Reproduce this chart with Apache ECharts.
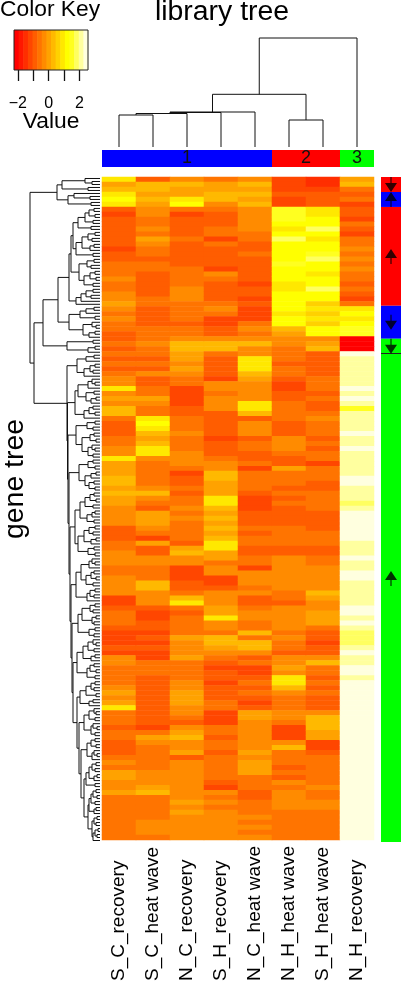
<!DOCTYPE html>
<html>
<head>
<meta charset="utf-8">
<title>Gene heat map</title>
<style>
  html, body { margin: 0; padding: 0; background: #fff; }
  #chart { width: 402px; height: 984px; }
</style>
<script src="https://cdn.jsdelivr.net/npm/echarts@6/dist/echarts.min.js"></script>
</head>
<body>
<div id="chart"></div>
<script>
const libraries = ['S_C_recovery', 'S_C_heat wave', 'N_C_recovery', 'S_H_recovery', 'N_C_heat wave', 'N_H_heat wave', 'S_H_heat wave', 'N_H_recovery']

// z scores per binned gene row, top to bottom
const sCRecovery = [
  0.9,0,0.3,0.9,1.2,0.9,-0.9,-1.2,-0.9,-0.9,-0.9,-0.9,-0.9,-0.9,-1.2,-0.9,-0.9,-0.6,-0.6,-0.6,
  -0.3,-0.6,-0.6,-0.3,-0.3,0,-0.3,-0.6,-0.3,-0.6,-0.6,-0.9,-0.9,-0.6,-0.9,-0.6,-0.9,-0.6,-0.9,
  -0.6,-0.3,-0.3,0.9,-0.3,0,-0.3,0.3,0.3,-0.6,-0.9,-0.9,-0.9,-0.6,-0.6,-0.3,-0.3,0.9,0,0,
  0,0.3,0.3,0,0.3,0,0,-0.3,-0.3,-0.3,-0.3,-0.9,-0.9,-0.9,-0.6,-0.6,-0.3,-0.3,-0.3,-0.6,
  -0.6,-0.3,-0.3,-0.3,-0.3,-1.2,-1.2,-0.9,-0.6,-0.6,-0.6,-0.9,-1.2,-1.2,-1.2,-0.9,-1.2,
  -0.3,-0.3,-0.6,-0.6,-0.6,-0.6,-0.3,0,-0.3,0,0.9,-0.6,-0.6,-0.6,-0.9,-0.6,-0.6,-0.9,-0.9,-0.9,
  -0.6,-0.3,-0.6,0,0,-0.3,-0.3,0,-0.6,-0.6,-0.6,-0.6,-0.6,-0.6,-0.6,-0.6,-0.6
]
const sCHeatWave = [
  -0.9,0.3,0.3,0,0.3,0,-0.3,-0.3,-0.6,-0.6,-0.3,-0.6,0,-0.3,-0.6,-0.6,-0.9,-0.6,-0.6,-0.9,
  -0.9,-0.9,-0.9,-0.9,-0.6,-0.6,-0.9,-0.9,-0.9,-0.9,-0.6,-0.6,-0.6,-0.3,-0.6,-0.6,-0.9,-0.6,-0.9,
  -0.3,-0.9,-0.9,-0.6,-0.6,0,-0.3,-0.6,-0.6,0.9,1.2,0.9,0.3,0,0.3,0.9,0.9,-0.3,-0.6,-0.6,
  -0.6,-0.6,-0.6,-0.3,0.3,-0.3,-0.6,-0.9,0,0,0,-0.3,-0.6,-1.2,0,-0.9,-0.9,-0.3,-0.3,-0.6,
  -0.6,-0.6,0.3,0.3,-0.3,-0.3,-0.3,-0.9,-1.2,-1.2,-0.9,-0.9,-1.2,-0.9,-1.2,-0.9,-1.2,
  -1.2,-0.6,-0.6,-0.6,-0.9,-0.9,-0.9,-0.9,-0.9,-0.9,-0.9,-0.9,-0.9,-0.9,-1.2,-0.6,0,-0.3,-0.6,-0.6,
  -0.6,-0.6,-0.6,-0.3,-0.3,-0.3,0,0.3,-0.6,-0.6,-0.6,-0.6,-0.6,-0.3,-0.3,-0.3,-0.6
]
const nCRecovery = [
  -0.3,0.3,0,0,0.9,1.2,-0.6,-1.2,-0.9,-0.9,-0.9,-0.9,-0.6,-0.9,-0.9,-0.9,-0.9,-0.9,-0.6,-0.6,
  -0.6,-0.6,-0.3,-0.3,-0.3,-0.6,-0.6,-0.6,-0.6,-0.9,-0.6,-0.6,-0.3,0.3,0.3,0,0,-0.3,0,
  -0.3,-0.6,-0.6,-1.2,-1.2,-1.2,-1.2,-0.9,-0.9,-0.6,-0.6,-0.6,-0.3,-0.6,-0.6,-0.6,-0.3,-0.3,-0.3,-0.6,
  -1.2,-0.9,-0.9,-0.6,-0.9,-0.6,-0.6,-0.3,-0.6,-0.3,-0.6,-0.6,-0.6,-0.6,-0.9,0,0.3,-0.3,-0.3,-1.2,
  -1.2,-1.2,-0.9,-0.9,-0.6,0.3,0.9,-0.6,-0.9,-0.6,-0.6,-0.6,-0.6,0,-0.3,-0.3,-0.3,
  0,-0.6,-0.6,-0.6,-0.6,-0.3,-0.3,0,0,0,-0.3,-0.3,-0.6,-0.9,-0.3,0,0.3,-0.3,-0.3,0,
  -0.9,-0.3,-0.3,-0.3,-0.3,-0.3,-0.3,-0.3,-0.3,0,-0.3,0,-0.3,-0.3,-0.3,-0.3,-0.3
]
const sHRecovery = [
  -0.6,0,0,0.3,0.3,-0.3,-0.6,-0.9,-0.9,-0.9,-0.6,-0.6,-1.2,-0.6,-0.9,-0.9,-0.9,-0.9,-1.2,-0.3,
  -0.6,-0.9,-0.9,-0.9,-0.9,-0.6,-0.3,-0.6,-1.2,-1.2,-0.9,-0.9,-0.3,0.3,0.3,-0.6,-0.9,-0.9,-0.9,
  -0.9,-1.2,-0.3,-0.3,-0.6,-0.3,-0.3,-0.3,-0.9,-0.9,-0.9,-0.9,-0.9,-1.2,-0.9,-0.9,-0.9,-0.6,-0.3,-0.3,
  0.3,0.3,0,0,0,0.9,0.9,0.3,0,0.3,0,0.3,0,0.3,0.9,0.9,0,0,-0.6,-0.3,
  -0.3,-1.2,-1.2,-0.9,-0.3,-0.3,-0.3,0,0,0.9,-0.3,-0.3,-0.6,0.3,0.3,0,-0.3,
  -0.6,-0.9,-1.2,-0.9,-0.9,-1.2,-0.9,-0.9,-0.9,-0.6,-0.6,-1.2,-1.2,-1.2,-0.6,-0.6,-0.9,-0.6,-0.6,-0.9,
  -0.6,-0.6,-0.6,-0.6,-0.6,-0.9,-1.2,-0.3,-0.6,-0.3,-0.6,-0.3,-0.3,-0.3,-0.3,-0.3,-0.3
]
const nCHeatWave = [
  -0.3,0.3,0,0.3,0,0.3,-0.3,-0.3,-0.3,-0.3,-0.3,-0.6,-0.6,-0.9,-0.9,-0.6,-0.9,-0.9,-0.9,-0.9,
  -0.9,-1.2,-0.9,-0.9,-1.2,-0.9,-1.2,-1.2,-1.2,-0.6,-0.3,-0.6,-0.3,0.3,-0.3,-0.3,0.9,0.9,0.9,
  0.3,0,-0.3,-0.3,-0.3,-0.3,0.9,0.9,0.3,-0.9,-0.3,-0.3,-0.3,-0.9,-0.6,-0.6,-0.9,-0.9,-0.6,-1.2,
  -0.6,-0.6,-0.6,-0.6,-0.9,-1.2,-1.2,-1.2,-0.9,-0.9,-0.9,-0.6,-0.9,-0.6,-0.6,-0.9,-0.9,-0.6,-0.6,-1.2,
  -0.3,-0.3,-0.3,-0.6,-0.3,-0.9,-0.9,-0.6,-0.3,-0.3,-0.6,-0.6,0.3,-0.6,0.3,0.3,-0.3,
  -0.9,-0.6,-1.2,-1.2,-0.9,-0.6,-0.9,-0.6,-0.9,-1.2,-0.9,0,0,-0.3,-0.3,-0.3,-0.3,-0.3,-0.3,0,
  -0.3,0,0,0,-0.6,-0.6,-0.6,-0.9,-0.9,-0.6,-0.6,-0.6,-0.3,-0.6,-0.3,-0.6,-0.3
]
const nHHeatWave = [
  -1.2,-1.2,-1.2,-0.9,-1.2,-1.2,1.5,1.5,1.5,1.2,0.9,1.2,1.8,1.2,1.2,1.2,1.2,1.5,1.2,1.2,
  1.2,0.9,0.9,1.2,1.2,1.2,1.2,0.9,1.2,1.2,0.3,0,-0.3,-0.3,-0.6,-0.6,-0.6,-0.9,-0.6,
  -0.6,-0.9,-1.2,-1.2,-0.9,-0.9,-0.6,-0.6,-0.6,-0.6,-0.9,-0.9,-0.9,-0.3,-0.3,-0.3,-0.6,-0.9,-0.9,0,
  -0.6,-0.6,-0.6,-0.9,-0.6,-0.9,-0.6,-0.9,-0.9,-0.9,-0.9,-0.6,-0.6,-0.6,-0.6,-0.9,-0.9,-0.3,-0.3,-0.3,
  -0.3,-0.3,-0.3,-0.3,-0.6,-0.6,-0.9,-0.3,-0.3,-0.3,-0.3,-0.3,-0.6,-0.3,-0.6,-0.6,-0.9,
  -0.3,-0.3,0,-0.3,0.9,0.9,0.3,-0.3,-0.6,-0.6,-0.6,-0.3,-0.3,-0.6,-1.2,-1.2,-1.2,-0.3,0.3,-0.6,
  -0.6,-0.6,-0.9,-0.6,-0.9,-0.3,-0.6,-0.3,-0.3,-0.3,-0.3,-0.6,-0.6,-0.6,-0.6,-0.6,-0.6
]
const sHHeatWave = [
  -1.5,-1.5,-1.2,-0.9,-0.9,-0.9,0.9,0.9,1.2,1.2,1.8,1.2,0.9,1.2,1.2,1.5,1.8,1.2,1.2,0.9,
  1.2,1.2,1.8,1.2,1.2,0.6,0.9,0.6,0.9,0.6,1.2,1.2,-0.3,0,0.3,-0.9,-0.9,-0.9,-0.9,
  -0.9,-0.6,-0.6,-0.6,-0.9,-0.6,-0.9,-0.9,-0.6,-0.3,-0.6,-0.6,-0.6,-0.9,-0.6,-0.9,-0.6,-0.6,-1.2,-0.6,
  -0.6,-0.6,-0.9,-0.9,-0.6,-0.6,-0.6,-0.6,-0.9,-0.9,-0.9,-0.9,-0.6,-0.6,-0.6,-0.9,-0.9,-0.6,-0.6,-0.3,
  -0.3,-0.3,-0.3,-0.3,0.3,0,-0.3,-0.3,0,0,0,-0.6,-0.9,-0.9,-1.2,-0.9,-0.9,
  -0.3,0.3,-0.6,-0.6,-0.9,-0.6,-0.9,-0.6,-0.9,-0.9,-0.9,-0.3,0.3,0.3,0.3,0,0,-1.2,-1.2,-0.9,
  -0.6,-0.6,-0.6,-0.6,-0.6,-0.6,-0.3,-0.6,-0.6,-0.3,-0.3,-0.6,-0.6,-0.6,-0.6,-0.6,-0.6
]
const nHRecovery = [
  0,0.3,-0.6,-0.9,-0.6,-1.2,-0.9,-0.9,-1.2,-0.6,-0.9,-1.2,-0.6,-0.6,-0.3,-0.6,-0.3,-0.6,-0.3,-0.6,
  -0.6,-0.9,-0.6,-0.9,-1.2,-0.6,0.9,1.2,0.9,1.2,1.5,1.5,-2.1,-2.1,-2.1,2.4,2.1,2.1,2.1,
  2.1,2.1,2.1,2.4,2.1,2.4,2.1,1.5,2.1,2.1,2.1,2.1,2.4,2.1,2.1,2.4,2.1,2.1,2.1,2.1,
  2.1,2.4,2.4,2.1,2.1,2.1,1.8,2.1,2.4,2.4,2.4,2.4,2.4,2.4,2.1,2.1,2.1,2.4,2.1,2.1,
  2.4,2.4,2.1,2.1,2.1,2.1,2.1,2.4,2.4,2.1,2.4,2.1,1.8,1.8,1.8,2.1,2.4,
  2.1,2.1,2.4,2.4,2.1,2.4,2.4,2.4,2.4,2.4,2.4,2.4,2.4,2.4,2.4,2.4,2.4,2.4,2.4,2.4,
  2.4,2.4,2.4,2.4,2.4,2.4,2.4,2.4,2.4,2.4,2.4,2.4,2.4,2.4,2.4,2.4,2.4
]
const heatColumns = [sCRecovery, sCHeatWave, nCRecovery, sHRecovery, nCHeatWave, nHHeatWave, sHHeatWave, nHRecovery]

const keyBreaks = [-2.25,-1.95,-1.65,-1.35,-1.05,-0.75,-0.45,-0.15,0.15,0.45,0.75,1.05,1.35,1.65,1.95,2.25,2.55]
const keyColors = ['#ff0000','#ff1700','#ff2e00','#ff4600','#ff5d00','#ff7400','#ff8b00','#ffa200','#ffb900','#ffd100','#ffe800','#ffff00','#ffff20','#ffff60','#ffff9f','#ffffdf']
const keyTicks = [-2, -1, 0, 1, 2]
const keyLabels = [-2, 0, 2]

// library tree merges: left x, left height, right x, right height, merge height
const libraryMerges = [
  [1, 0, 2, 0, 32],
  [1.5, 32, 3, 0, 33.5],
  [2.5, 33.5, 4, 0, 34.5],
  [2.5, 34.5, 5, 0, 35],
  [6, 0, 7, 0, 27],
  [3.75, 35, 6.5, 27, 52.7],
  [5.125, 52.7, 8, 0, 109]
]

// gene tree: height at which each leaf joins the next one
const geneGaps = [
  15,8,38,12,43,26,10,32,9,70,
  6,11,5,15,7,22,9,27,5,12,8,18,6,10,24,7,29,6,13,9,21,5,10,4,16,7,31,7,14,9,19,24,42,
  6,14,20,5,31,8,4,17,5,11,57,7,33,5,12,66,
  6,14,23,5,10,7,16,33,
  8,5,12,22,6,14,4,9,25,7,11,5,16,32.5,
  5,13,7,24,6,10,4,18,8,5,12,7,32,
  7,12,5,21,4,9,15,6,11,5,31,
  6,10,4,15,7,20,5,8,13,6,25,5,11,7,16,4,9,22,6,12,5,30,
  8,5,11,19,6,9,4,14,7,24,5,10,6,13,29,
  5,10,7,18,4,8,6,22,5,11,6,28,
  7,4,12,6,17,5,9,23,6,10,4,13,5,27,
  5,9,6,14,4,20,7,11,23,
  6,4,11,5,16,7,3,9,5,21,
  5,9,4,13,6,3,8,19,
  4,8,5,11,3,6,14,5,16,
  4,7,3,9,5,11,4,6,12,
  3,6,4,8,2,5,3,7
]

const clusterNames = ['1', '2', '3']
const clusterSizes = [5, 2, 1]
const clusterColors = ['#0000ff', '#ff0000', '#00ff00']

const sideSizes = [5, 5, 33, 11, 5, 163]
const sideColors = ['#ff0000', '#0000ff', '#ff0000', '#0000ff', '#00ff00', '#00ff00']
const sideArrowRows = [2.5, 7.5, 26.5, 48.5, 56.5, 134]
const sideArrowUp = [false, true, true, false, false, true]
const sideLineRow = 59

const arrowPath = 'path://M6,0 L12,9 L6.6,9 L6.6,15 L5.4,15 L5.4,9 L0,9 Z'

function buildGeneMerges(gaps) {
  const merges = []
  function walk(from, to) {
    if (from === to) return { pos: from + 0.5, h: 0 }
    let split = from
    for (let i = from; i < to; i++) {
      if (gaps[i] > gaps[split]) split = i
    }
    const a = walk(from, split)
    const b = walk(split + 1, to)
    const h = gaps[split]
    merges.push([a.h, a.pos, h, a.pos, h, b.pos, b.h, b.pos])
    return { pos: (a.pos + b.pos) / 2, h: h }
  }
  walk(0, gaps.length)
  return merges
}

function renderElbow(params, api) {
  const points = []
  for (let i = 0; i < 8; i += 2) {
    points.push(api.coord([api.value(i), api.value(i + 1)]))
  }
  return {
    type: 'polyline',
    shape: { points: points },
    style: { fill: 'none', stroke: '#111', lineWidth: 1 }
  }
}

function renderKeyCell(params, api) {
  const a = api.coord([api.value(0), 1])
  const b = api.coord([api.value(1), 0])
  return {
    type: 'rect',
    shape: { x: a[0], y: a[1], width: b[0] - a[0] + 0.6, height: b[1] - a[1] },
    style: { fill: keyColors[params.dataIndex] }
  }
}

const heatData = []
heatColumns.forEach(function(column, c) {
  column.forEach(function(v, r) {
    heatData.push([c, r, v])
  })
})

const pieces = keyColors.map(function(color, i) {
  return { gte: keyBreaks[i], lt: keyBreaks[i + 1], color: color }
})

const libraryElbows = libraryMerges.map(function(m) {
  return [m[0], m[1], m[0], m[4], m[2], m[4], m[2], m[3]]
})

const hidden = { show: false }
const font = 'Liberation Sans'

const option = {
  animation: false,
  backgroundColor: '#fff',
  textStyle: { fontFamily: font },
  grid: [
    { left: 102, top: 177, width: 272, height: 665 },
    { left: 102, top: 38, width: 272, height: 109 },
    { left: 102, top: 150, width: 272, height: 17 },
    { left: 30, top: 177, width: 70, height: 665 },
    { left: 381, top: 177, width: 20, height: 665 },
    { left: 14, top: 30, width: 74, height: 40, show: true, borderColor: '#222', borderWidth: 1, z: 5 }
  ],
  xAxis: [
    {
      gridIndex: 0,
      type: 'category',
      data: libraries,
      axisLine: hidden,
      axisTick: hidden,
      axisLabel: {
        interval: 0,
        rotate: 90,
        align: 'left',
        margin: 141,
        padding: [0, 0, 6, 0],
        fontSize: 19,
        color: '#000',
        fontFamily: font
      }
    },
    { gridIndex: 1, type: 'value', min: 0.5, max: 8.5, show: false },
    { gridIndex: 2, type: 'value', min: 0, max: 8, show: false },
    { gridIndex: 3, type: 'value', min: 0, max: 70, inverse: true, show: false },
    { gridIndex: 4, type: 'category', data: ['genes'], show: false },
    {
      gridIndex: 5,
      type: 'value',
      min: keyBreaks[0],
      max: keyBreaks[keyBreaks.length - 1],
      splitLine: hidden,
      axisLine: hidden,
      axisTick: { show: true, length: 11, customValues: keyTicks, lineStyle: { color: '#111', width: 1.3 } },
      axisLabel: {
        customValues: keyLabels,
        margin: 26,
        fontSize: 16,
        color: '#000',
        fontFamily: font,
        formatter: function(v) {
          return String(v).replace('-', '\u2212')
        }
      }
    }
  ],
  yAxis: [
    { gridIndex: 0, type: 'category', inverse: true, data: heatColumns[0].map(function(v, i) { return i }), show: false },
    { gridIndex: 1, type: 'value', min: 0, max: 109, show: false },
    { gridIndex: 2, type: 'category', data: ['libraries'], show: false },
    { gridIndex: 3, type: 'value', min: 0, max: geneGaps.length + 1, inverse: true, show: false },
    { gridIndex: 4, type: 'value', min: 0, max: geneGaps.length + 1, inverse: true, show: false },
    { gridIndex: 5, type: 'value', min: 0, max: 1, show: false }
  ],
  visualMap: {
    show: false,
    type: 'piecewise',
    seriesIndex: 0,
    dimension: 2,
    pieces: pieces
  },
  series: [
    {
      type: 'heatmap',
      xAxisIndex: 0,
      yAxisIndex: 0,
      data: heatData,
      silent: true,
      progressive: 0
    },
    {
      type: 'custom',
      xAxisIndex: 1,
      yAxisIndex: 1,
      renderItem: renderElbow,
      data: libraryElbows,
      silent: true
    },
    {
      type: 'custom',
      xAxisIndex: 3,
      yAxisIndex: 3,
      renderItem: renderElbow,
      data: buildGeneMerges(geneGaps),
      silent: true
    },
    {
      type: 'custom',
      xAxisIndex: 5,
      yAxisIndex: 5,
      renderItem: renderKeyCell,
      data: keyColors.map(function(c, i) { return [keyBreaks[i], keyBreaks[i + 1]] }),
      silent: true
    }
  ].concat(clusterSizes.map(function(size, i) {
    return {
      type: 'bar',
      name: clusterNames[i],
      xAxisIndex: 2,
      yAxisIndex: 2,
      stack: 'clusters',
      barWidth: '100%',
      data: [size],
      silent: true,
      itemStyle: { color: clusterColors[i] },
      label: { show: true, position: 'inside', formatter: '{a}', fontSize: 18, color: '#111', fontFamily: font }
    }
  })).concat(sideSizes.map(function(size, i) {
    return {
      type: 'bar',
      xAxisIndex: 4,
      yAxisIndex: 4,
      stack: 'side',
      barWidth: '100%',
      data: [size],
      silent: true,
      itemStyle: { color: sideColors[i] }
    }
  })).concat([
    {
      type: 'scatter',
      xAxisIndex: 4,
      yAxisIndex: 4,
      silent: true,
      symbol: arrowPath,
      symbolSize: [12, 15],
      itemStyle: { color: '#000' },
      z: 6,
      data: sideArrowRows.map(function(row, i) {
        return { value: ['genes', row], symbolRotate: sideArrowUp[i] ? 0 : 180 }
      }),
      markLine: {
        silent: true,
        symbol: 'none',
        label: hidden,
        lineStyle: { color: '#222', width: 1, type: 'solid' },
        data: [{ yAxis: sideLineRow }]
      }
    }
  ]),
  graphic: [
    { type: 'text', x: 0, y: 10, style: { text: 'Color Key', font: '22.8px ' + font, fill: '#000', textVerticalAlign: 'middle' } },
    { type: 'text', x: 51, y: 122, style: { text: 'Value', font: '22.8px ' + font, fill: '#000', textAlign: 'center', textVerticalAlign: 'middle' } },
    { type: 'text', x: 222, y: 12, style: { text: 'library tree', font: '28.4px ' + font, fill: '#000', textAlign: 'center', textVerticalAlign: 'middle' } },
    { type: 'text', x: 15, y: 479, rotation: Math.PI / 2, style: { text: 'gene tree', font: '28.4px ' + font, fill: '#000', textAlign: 'center', textVerticalAlign: 'middle' } }
  ]
}

const chart = echarts.init(document.getElementById('chart'), null, { renderer: 'canvas' })
chart.setOption(option)
</script>
</body>
</html>
